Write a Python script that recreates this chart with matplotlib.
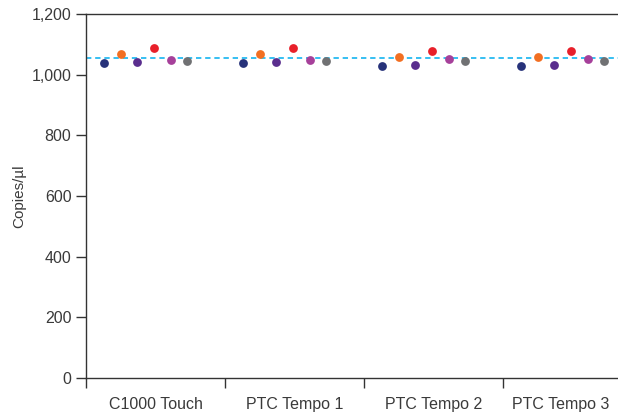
import matplotlib
matplotlib.use('Agg')
import matplotlib.pyplot as plt
import numpy as np

plt.rcParams['font.family'] = ['Liberation Sans', 'DejaVu Sans']

# Instruments (x categories)
instruments = ['C1000 Touch', 'PTC Tempo 1', 'PTC Tempo 2', 'PTC Tempo 3']

# Copies/ul per sample (6 samples per instrument)
sample1 = [1038, 1038, 1029, 1029]
sample2 = [1068, 1068, 1059, 1059]
sample3 = [1042, 1042, 1033, 1033]
sample4 = [1088, 1088, 1078, 1078]
sample5 = [1047, 1047, 1053, 1053]
sample6 = [1045, 1045, 1045, 1045]
expected = 1054

series = [sample1, sample2, sample3, sample4, sample5, sample6]
colors = ['#27327a', '#f26f22', '#5a2e8e', '#e8202a', '#a6409a', '#707173']
offsets = [0.13, 0.25, 0.37, 0.49, 0.61, 0.73]

fig = plt.figure(figsize=(6.18, 4.17), dpi=100)
ax = fig.add_axes([86/618, 1 - 378/417, 532/618, 364/417])

x = np.arange(len(instruments))
for vals, c, off in zip(series, colors, offsets):
    ax.scatter(x + off, vals, s=40, color=c, zorder=3, linewidths=0)

ax.axhline(expected, color='#00aeef', linestyle=(0, (3.5, 2.5)), linewidth=1.1, zorder=2)

# last group is clipped by the figure edge
xmax = 532 / 139
ax.set_xlim(0, xmax)
ax.set_ylim(0, 1200)
ax.set_yticks(np.arange(0, 1201, 200))
ax.set_yticklabels(['{:,}'.format(v) for v in range(0, 1201, 200)])

ax.set_xticks([0, 1, 2, 3])
ax.set_xticklabels([])
label_pos = [min(i + 0.5, (i + xmax) / 2) for i in x]
ax.set_xticks(label_pos, minor=True)
ax.set_xticklabels(instruments, minor=True)
ax.tick_params(axis='x', which='minor', length=0, pad=14)
ax.tick_params(axis='x', which='major', length=7, width=1, color='#333333')
ax.tick_params(axis='y', length=7, width=1, color='#333333')
ax.tick_params(labelsize=11.5, labelcolor='#3a3a3a')
ax.tick_params(axis='x', which='minor', labelsize=11.5, labelcolor='#3a3a3a')

for s in ['left', 'bottom', 'top']:
    ax.spines[s].set_color('#333333')
    ax.spines[s].set_linewidth(1)
ax.spines['right'].set_visible(False)

ax.set_ylabel('Copies/µl', fontsize=11, color='#3a3a3a', labelpad=4)

fig.savefig('out.png', dpi=100)
